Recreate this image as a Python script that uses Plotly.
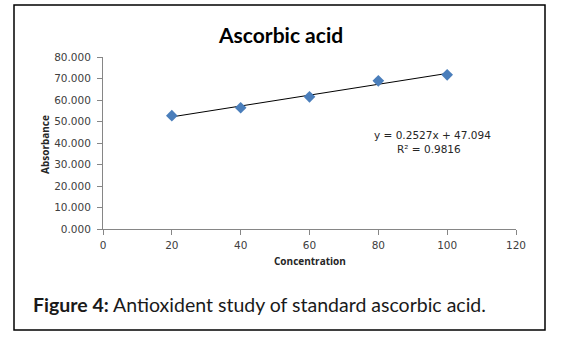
import plotly.graph_objects as go

# Standard ascorbic acid series
concentration = [20, 40, 60, 80, 100]
absorbance = [52.7, 56.4, 61.5, 68.9, 71.7]

# Linear trendline reported on the chart
slope = 0.2527
intercept = 47.094
r_squared = 0.9816
trend_x = [concentration[0], concentration[-1]]
trend_y = [slope * x + intercept for x in trend_x]

x_ticks = [0, 20, 40, 60, 80, 100, 120]
y_ticks = [0, 10, 20, 30, 40, 50, 60, 70, 80]

W, H = 564, 339
ML, MR, MT, MB = 103, 48, 57, 110
PW, PH = W - ML - MR, H - MT - MB


def px(x):
    return (x - ML) / PW


def py(y):
    return 1 - (y - MT) / PH


axis_color = "#868686"
tick_font = dict(family="DejaVu Sans", size=10.5, color="#404040")

fig = go.Figure()

fig.add_trace(go.Scatter(
    x=trend_x, y=trend_y, mode="lines",
    line=dict(color="black", width=1),
    hoverinfo="skip", showlegend=False,
))
fig.add_trace(go.Scatter(
    x=concentration, y=absorbance, mode="markers",
    marker=dict(symbol="diamond", size=9, color="#4A7EBB",
                line=dict(width=0)),
    showlegend=False,
))

fig.update_xaxes(
    range=[0, 120], tickvals=x_ticks, ticktext=[str(v) for v in x_ticks],
    showline=True, linecolor=axis_color, linewidth=1,
    ticks="outside", ticklen=5, tickcolor=axis_color,
    showgrid=False, zeroline=False, tickfont=tick_font,
    ticklabelstandoff=1,
)
fig.update_yaxes(
    range=[0, 80], tickvals=y_ticks, tickformat=".3f",
    showline=True, linecolor=axis_color, linewidth=1,
    ticks="outside", ticklen=5, tickcolor=axis_color,
    showgrid=False, zeroline=False, tickfont=tick_font,
    ticklabelstandoff=4,
)

annotations = [
    dict(x=px(280), y=py(34), text="<b>Ascorbic acid</b>",
         font=dict(family="Lato", size=21, color="black")),
    dict(x=px(310), y=py(261), text="<b>Concentration</b>",
         font=dict(family="Open Sans", size=10, color="#262626")),
    dict(x=px(45), y=py(145), text="<b>Absorbance</b>", textangle=-90,
         font=dict(family="Open Sans", size=10, color="#262626")),
    dict(x=px(432), y=py(135), text=f"y = {slope}x + {intercept}",
         font=dict(family="DejaVu Sans", size=10.5, color="#262626")),
    dict(x=px(429), y=py(149), text=f"R² = {r_squared}",
         font=dict(family="DejaVu Sans", size=10.5, color="#262626")),
    dict(x=px(31), y=py(304), xanchor="left",
         text="<b>Figure 4:</b> Antioxident study of standard ascorbic acid.",
         font=dict(family="Lato", size=19.5, color="#1a1a1a")),
]
for a in annotations:
    a.setdefault("xanchor", "center")
    a.update(xref="paper", yref="paper", yanchor="middle", showarrow=False)

fig.update_layout(
    width=W, height=H,
    margin=dict(l=ML, r=MR, t=MT, b=MB, autoexpand=False),
    paper_bgcolor="white", plot_bgcolor="white",
    annotations=annotations,
    shapes=[dict(type="rect", xref="paper", yref="paper",
                 x0=px(14), x1=px(545), y0=py(330), y1=py(5),
                 line=dict(color="black", width=1.5))],
)

fig.write_html("out.html")
